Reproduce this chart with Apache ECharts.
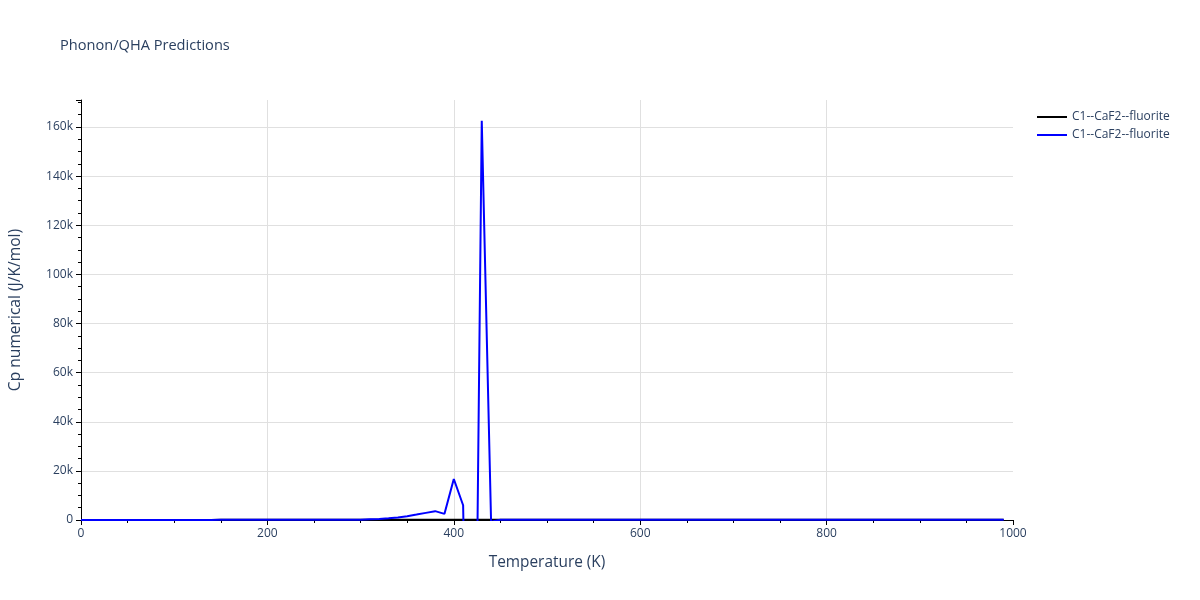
<!DOCTYPE html>
<html>
<head>
<meta charset="utf-8">
<script src="https://cdn.jsdelivr.net/npm/echarts@6/dist/echarts.min.js"></script>
<style>html,body{margin:0;padding:0;background:#fff}#c{width:1200px;height:600px}</style>
</head>
<body>
<div id="c"></div>
<script>
const titleText = 'Phonon/QHA Predictions';
const xLabel = 'Temperature (K)';
const yLabel = 'Cp numerical (J/K/mol)';
const seriesNames = ['C1--CaF2--fluorite', 'C1--CaF2--fluorite'];
const seriesColors = ['#000000', '#0000ff'];

const temps = [0,10,20,30,40,50,60,70,80,90,100,110,120,130,140,150,160,170,180,190,
  200,210,220,230,240,250,260,270,280,290,300,310,320,330,340,350,360,370,380,390,
  400,410,420,430,440,450,460,470,480,490,500,510,520,530,540,550,560,570,580,590,
  600,610,620,630,640,650,660,670,680,690,700,710,720,730,740,750,760,770,780,790,
  800,810,820,830,840,850,860,870,880,890,900,910,920,930,940,950,960,970,980,990];

const cpBlack = [0,0.2,1.5,4.8,9.5,15,20.5,26,31,35.5,39.5,43,46,48.5,50.5,52.5,54,55.5,56.5,57.5,
  58.5,59.5,60,61,61.5,62,62.5,63,63.5,64,64.5,65,65.3,65.6,66,66.3,66.6,67,67.3,67.6,
  68,68.3,68.6,69,69.3,69.6,70,70.2,70.4,70.6,70.8,71,71.2,71.4,71.6,71.8,72,72.2,72.4,72.6,
  72.8,73,73.2,73.4,73.6,73.8,74,74.2,74.4,74.6,74.8,75,75.2,75.4,75.6,75.8,76,76.2,76.4,76.6,
  76.8,77,77.2,77.4,77.6,77.8,78,78.2,78.4,78.6,78.8,79,79.2,79.4,79.6,79.8,80,80.2,80.4,80.6];

const cpBlue = [0,0.2,1.5,4.8,9.5,15,20.5,26,31,35.5,39.5,43,46,48.5,50.5,52.5,54,55.5,56.5,57.5,
  58.5,59.5,60,61,61.5,62,63,65,70,90,150,300,450,700,1050,1550,2200,2900,3600,2500,
  16700,6000,-198000,162500,-700,60,62,64,66,68,70,71,72,73,74,75,76,77,78,79,
  80,81,82,83,84,85,86,87,88,89,90,91,92,93,94,95,96,97,98,99,
  100,101,102,103,104,105,106,107,108,109,110,111,112,113,114,115,116,117,118,119];

const textColor = '#2a3f5f';
const font = '"Open Sans", Verdana, sans-serif';

const chart = echarts.init(document.getElementById('c'), null, {renderer: 'canvas'});
chart.setOption({
  backgroundColor: '#ffffff',
  animation: false,
  title: {
    text: titleText, left: 60, top: 38, padding: 0,
    textStyle: {color: textColor, fontSize: 14.6, fontWeight: 'normal', fontFamily: font}
  },
  legend: {
    orient: 'vertical', left: 1037, top: 111, padding: 0, itemWidth: 30, itemHeight: 2, itemGap: 6,
    icon: 'rect',
    textStyle: {color: textColor, fontSize: 12, fontFamily: font},
    data: [{name: 'a', icon: 'rect'}, {name: 'b', icon: 'rect'}],
    formatter: function (n) { return n === 'a' ? seriesNames[0] : seriesNames[1]; }
  },
  grid: {left: 80, right: 187, top: 100, bottom: 80, containLabel: false},
  xAxis: {
    type: 'value', min: 0, max: 1000, interval: 200,
    name: xLabel, nameLocation: 'middle', nameGap: 35,
    nameTextStyle: {color: textColor, fontSize: 15.4, fontFamily: font},
    axisLine: {show: true, onZero: false, lineStyle: {color: '#000', width: 1}},
    axisTick: {show: true, length: 5, lineStyle: {color: '#000'}},
    minorTick: {show: true, splitNumber: 4, length: 3, lineStyle: {color: '#000'}},
    axisLabel: {color: textColor, fontSize: 12, fontFamily: font, margin: 8,
      formatter: function (v) { return String(v); }},
    splitLine: {show: true, showMinLine: false, showMaxLine: false, lineStyle: {color: '#e0e0e0', width: 1}}
  },
  yAxis: {
    type: 'value', min: 0, max: 171000, interval: 20000,
    name: yLabel, nameLocation: 'middle', nameGap: 57,
    nameTextStyle: {color: textColor, fontSize: 15.6, fontFamily: font},
    axisLine: {show: true, onZero: false, lineStyle: {color: '#000', width: 1}},
    axisTick: {show: true, length: 5, lineStyle: {color: '#000'}},
    minorTick: {show: true, splitNumber: 4, length: 3, lineStyle: {color: '#000'}},
    axisLabel: {
      color: textColor, fontSize: 12, fontFamily: font, margin: 8, showMaxLabel: false,
      formatter: function (v) { return v === 0 ? '0' : (v / 1000) + 'k'; }
    },
    splitLine: {show: true, showMinLine: false, showMaxLine: false, lineStyle: {color: '#e0e0e0', width: 1}}
  },
  series: [
    {
      name: 'a', type: 'line', showSymbol: false, symbol: 'none', clip: true,
      color: seriesColors[0], lineStyle: {color: seriesColors[0], width: 2},
      data: temps.map((t, i) => [t, cpBlack[i]]), z: 2
    },
    {
      name: 'b', type: 'line', showSymbol: false, symbol: 'none', clip: true,
      color: seriesColors[1], lineStyle: {color: seriesColors[1], width: 2},
      data: temps.map((t, i) => [t, cpBlue[i]]), z: 3
    }
  ]
});
</script>
</body>
</html>
